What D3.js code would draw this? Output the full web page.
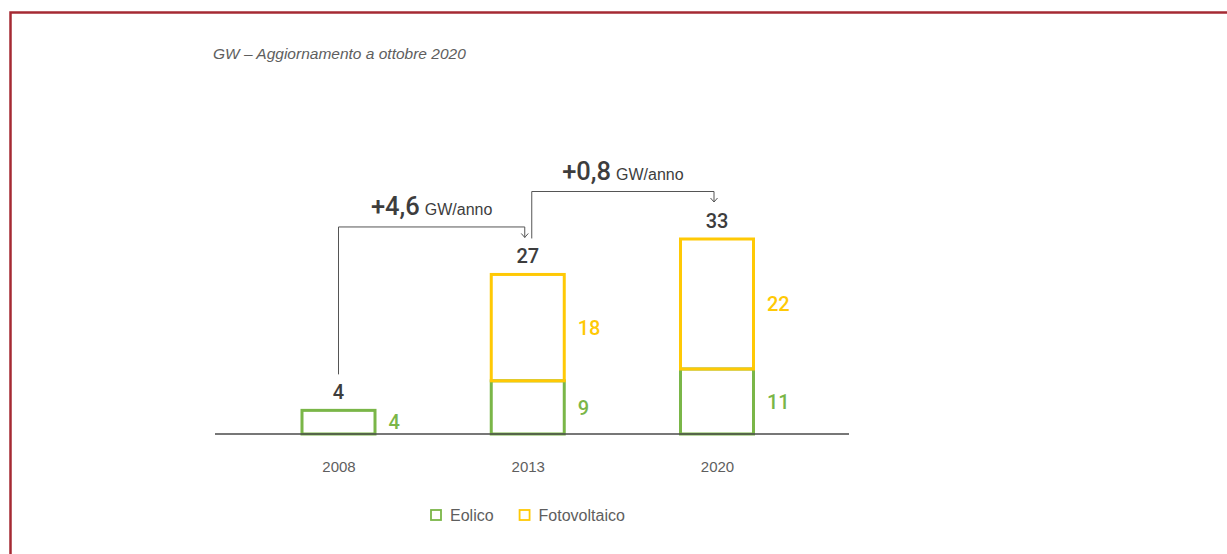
<!DOCTYPE html>
<html>
<head>
<meta charset="utf-8">
<script src="https://cdn.jsdelivr.net/npm/d3@7"></script>
<style>
  body { margin: 0; background: #fff; }
  svg { display: block; }
</style>
</head>
<body>
<script>
// Installed capacity (GW) of wind and solar, per year
const years = ["2008", "2013", "2020"];
const eolico = [4, 9, 11];
const fotovoltaico = [0, 18, 22];
const totals = [4, 27, 33];
const growthRates = ["+4,6", "+0,8"];
const growthUnit = "GW/anno";
const seriesNames = ["Eolico", "Fotovoltaico"];
const subtitle = "GW – Aggiornamento a ottobre 2020";

const W = 1227, H = 554;
const colors = { Eolico: "#7ab648", Fotovoltaico: "#ffc905" };
const dark = "#3d3d3d", grey = "#5e5e5e";
const numFont = "Roboto, 'Liberation Sans', sans-serif";
const txtFont = "'Liberation Sans', Arial, sans-serif";

const svg = d3.select("body").append("svg")
  .attr("width", W).attr("height", H);

// frame: left and top rules
svg.append("path")
  .attr("d", `M10.5,${H} V12.5 H${W}`)
  .attr("fill", "none")
  .attr("stroke", "#a52a33")
  .attr("stroke-width", 2.5);

svg.append("text")
  .attr("x", 213).attr("y", 59)
  .attr("font-family", txtFont)
  .attr("font-style", "italic")
  .attr("font-size", 15.5)
  .attr("fill", grey)
  .text(subtitle);

const baseY = 434;
const y = d3.scaleLinear().domain([0, 33]).range([baseY, 239]);
const x = d3.scalePoint().domain(years).range([338.5, 717]);
const barW = 76, sw = 3;

const rows = years.map((yr, i) => ({
  yr, wind: eolico[i], pv: fotovoltaico[i], total: totals[i]
}));

const bars = svg.append("g");
// wind segment
bars.selectAll("rect.wind").data(rows).join("rect")
  .attr("class", "wind")
  .attr("x", d => x(d.yr) - barW / 2 + sw / 2)
  .attr("y", d => y(d.wind))
  .attr("width", barW - sw)
  .attr("height", d => y(0) - y(d.wind))
  .attr("fill", "none")
  .attr("stroke", colors.Eolico)
  .attr("stroke-width", sw);

// solar segment stacked on top
bars.selectAll("rect.pv").data(rows.filter(d => d.pv > 0)).join("rect")
  .attr("class", "pv")
  .attr("x", d => x(d.yr) - barW / 2 + sw / 2)
  .attr("y", d => y(d.wind + d.pv))
  .attr("width", barW - sw)
  .attr("height", d => y(d.wind) - y(d.wind + d.pv))
  .attr("fill", "none")
  .attr("stroke", colors.Fotovoltaico)
  .attr("stroke-width", sw);

// segment value labels, right of each bar
const lab = svg.append("g")
  .attr("font-family", numFont)
  .attr("font-weight", 500)
  .attr("font-size", 20);
lab.selectAll("text.w").data(rows).join("text")
  .attr("x", d => x(d.yr) + barW / 2 + 12)
  .attr("y", d => (y(0) + y(d.wind)) / 2)
  .attr("dy", "0.36em")
  .attr("fill", colors.Eolico)
  .text(d => d.wind);
lab.selectAll("text.p").data(rows.filter(d => d.pv > 0)).join("text")
  .attr("x", d => x(d.yr) + barW / 2 + 12)
  .attr("y", d => (y(d.wind) + y(d.wind + d.pv)) / 2)
  .attr("dy", "0.36em")
  .attr("fill", colors.Fotovoltaico)
  .text(d => d.pv);

// totals above bars
lab.selectAll("text.t").data(rows).join("text")
  .attr("x", d => x(d.yr))
  .attr("y", d => y(d.total) - 11)
  .attr("text-anchor", "middle")
  .attr("fill", dark)
  .text(d => d.total);

// baseline and year labels
svg.append("line")
  .attr("x1", 215).attr("x2", 849)
  .attr("y1", baseY).attr("y2", baseY)
  .attr("stroke", "#4a4a4a").attr("stroke-width", 1.5);

const axis = svg.append("g")
  .attr("transform", `translate(0,${baseY})`)
  .call(d3.axisBottom(x).tickSize(0).tickPadding(27));
axis.select(".domain").remove();
axis.selectAll("text")
  .attr("font-family", txtFont)
  .attr("font-size", 15)
  .attr("fill", grey);

// growth connectors between consecutive totals
const conn = svg.append("g");
growthRates.forEach((rate, i) => {
  const x0 = x(years[i]) + (i === 0 ? 0 : 4);
  const y0 = y(totals[i]) - 36;
  const x1 = x(years[i + 1]) - 3;
  const top = y(totals[i + 1]) - 47.5;
  const tip = y(totals[i + 1]) - 37;
  conn.append("path")
    .attr("d", `M${x0},${y0} V${top} H${x1} V${tip}`)
    .attr("fill", "none").attr("stroke", "#555").attr("stroke-width", 1);
  conn.append("path")
    .attr("d", `M${x1 - 3.5},${tip - 4} L${x1},${tip} L${x1 + 3.5},${tip - 4}`)
    .attr("fill", "none").attr("stroke", "#555").attr("stroke-width", 1);
  const t = conn.append("text")
    .attr("x", (x0 + x1) / 2)
    .attr("y", top - 11.5)
    .attr("text-anchor", "middle")
    .attr("fill", dark);
  t.append("tspan")
    .attr("font-family", numFont).attr("font-weight", 500).attr("font-size", 25.5)
    .text(rate);
  t.append("tspan")
    .attr("font-family", txtFont).attr("font-size", 16)
    .attr("dx", 5)
    .text(growthUnit);
});

// legend
const leg = svg.append("g").attr("transform", "translate(430,509)");
let lx = 0;
seriesNames.forEach(name => {
  const g = leg.append("g").attr("transform", `translate(${lx},0)`);
  g.append("rect")
    .attr("x", 1).attr("y", 1).attr("width", 10).attr("height", 10)
    .attr("fill", "none").attr("stroke", colors[name]).attr("stroke-width", 1.8);
  const tx = g.append("text")
    .attr("x", 20).attr("y", 6).attr("dy", "0.36em")
    .attr("font-family", txtFont).attr("font-size", 16)
    .attr("fill", grey)
    .text(name);
  lx += 20 + tx.node().getComputedTextLength() + 25;
});
</script>
</body>
</html>
